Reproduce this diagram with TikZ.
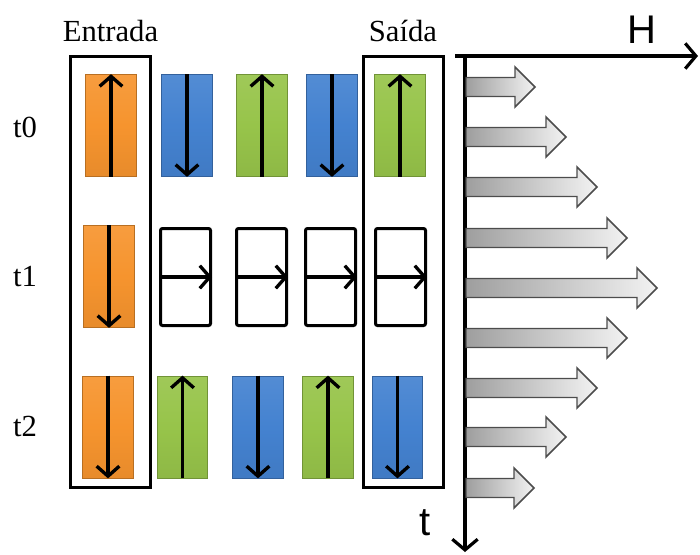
\documentclass[tikz,border=0pt]{standalone}
\usepackage{fontspec}
\setmainfont{Liberation Serif}
\newfontfamily\axisfont{Liberation Sans}
\usetikzlibrary{arrows.meta,positioning}
\definecolor{spinorange}{RGB}{246,148,46}
\definecolor{spinblue}{RGB}{68,130,208}
\definecolor{spingreen}{RGB}{151,196,74}
\tikzset{
  spinbox/.style={draw=#1!75!black, line width=0.6pt, top color=#1!92!white, bottom color=#1!94!black, middle color=#1, inner sep=0pt, minimum width=38pt, minimum height=76.5pt},
  emptybox/.style={draw, line width=2.25pt, rounded corners=1.5pt, inner sep=0pt, minimum width=37.5pt, minimum height=72.75pt},
  framebox/.style={draw, line width=2.25pt, inner sep=0pt, minimum width=60pt, minimum height=323.25pt},
  spin/.style={line width=2.5pt, -{Straight Barb[length=7.5pt,width=17pt]}},
  axis/.style={line width=2.4pt, -{Straight Barb[length=8pt,width=19pt]}},
  field/.style={draw=black!70, line width=1.1pt, left color=black!38, right color=black!5},
  lbl/.style={font=\fontsize{23}{27}\selectfont},
  axlbl/.style={font=\axisfont\fontsize{30}{34}\selectfont},
}
\begin{document}
\begin{tikzpicture}[x=0.75pt,y=0.75pt,yscale=-1,xscale=1]
\useasboundingbox (0,0) rectangle (700,554);
% Frames
\node[framebox] (inbox) at (110.5,272) {};
\node[framebox] (outbox) at (403,272) {};
\node[lbl, above=6pt of inbox] (inlbl) {Entrada};
\node[lbl, above=6pt of outbox] (outlbl) {Saída};
% Time labels
\node[lbl] (t0) at (25,127) {t0};
\node[lbl] (t1) at (25,277) {t1};
\node[lbl] (t2) at (25,426) {t2};
% Row t0
\node[spinbox=spinorange] (s00) at (111,125.5) {};
\node[spinbox=spinblue] (s01) at (187,125.5) {};
\node[spinbox=spingreen] (s02) at (262,125.5) {};
\node[spinbox=spinblue] (s03) at (332,125.5) {};
\node[spinbox=spingreen] (s04) at (400,125.5) {};
\draw[spin] (s00.south) -- (s00.north);
\draw[spin] (s01.north) -- (s01.south);
\draw[spin] (s02.south) -- (s02.north);
\draw[spin] (s03.north) -- (s03.south);
\draw[spin] (s04.south) -- (s04.north);
% Row t1
\node[spinbox=spinorange] (s10) at (109,276.5) {};
\node[emptybox] (s11) at (185.5,277) {};
\node[emptybox] (s12) at (261.5,277) {};
\node[emptybox] (s13) at (330.5,277) {};
\node[emptybox] (s14) at (400.5,277) {};
\draw[spin] (s10.north) -- (s10.south);
\draw[spin] (s11.west) -- (s11.east);
\draw[spin] (s12.west) -- (s12.east);
\draw[spin] (s13.west) -- (s13.east);
\draw[spin] (s14.west) -- (s14.east);
% Row t2
\node[spinbox=spinorange] (s20) at (108,427) {};
\node[spinbox=spingreen] (s21) at (182.5,427) {};
\node[spinbox=spinblue] (s22) at (258,427) {};
\node[spinbox=spingreen] (s23) at (328,427) {};
\node[spinbox=spinblue] (s24) at (397.5,427) {};
\draw[spin] (s20.north) -- (s20.south);
\draw[spin] (s21.south) -- (s21.north);
\draw[spin] (s22.north) -- (s22.south);
\draw[spin] (s23.south) -- (s23.north);
\draw[spin] (s24.north) -- (s24.south);
% Axes
\coordinate (origin) at (465,56);
\coordinate (hstart) at (455,56);
\coordinate (hend) at (698,56);
\coordinate (tend) at (465,552);
\draw[axis] (hstart) -- (hend);
\draw[axis] (origin) -- (tend);
\node[axlbl] (hlbl) at (642,30) {H};
\node[axlbl] (tlbl) at (425,523) {t};
% Field profile
\draw[field] (466,77.5) -- (515,77.5) -- (515,67) -- (535,87) -- (515,107) -- (515,96.5) -- (466,96.5) -- cycle;
\draw[field] (466,127.5) -- (546,127.5) -- (546,117) -- (566,137) -- (546,157) -- (546,146.5) -- (466,146.5) -- cycle;
\draw[field] (466,177.5) -- (577,177.5) -- (577,167) -- (597,187) -- (577,207) -- (577,196.5) -- (466,196.5) -- cycle;
\draw[field] (466,228.5) -- (607,228.5) -- (607,218) -- (627,238) -- (607,258) -- (607,247.5) -- (466,247.5) -- cycle;
\draw[field] (466,278.5) -- (637,278.5) -- (637,268) -- (657,288) -- (637,308) -- (637,297.5) -- (466,297.5) -- cycle;
\draw[field] (466,328.5) -- (607,328.5) -- (607,318) -- (627,338) -- (607,358) -- (607,347.5) -- (466,347.5) -- cycle;
\draw[field] (466,378.5) -- (577,378.5) -- (577,368) -- (597,388) -- (577,408) -- (577,397.5) -- (466,397.5) -- cycle;
\draw[field] (466,427.5) -- (546,427.5) -- (546,417) -- (566,437) -- (546,457) -- (546,446.5) -- (466,446.5) -- cycle;
\draw[field] (466,478.5) -- (514,478.5) -- (514,468) -- (534,488) -- (514,508) -- (514,497.5) -- (466,497.5) -- cycle;
\end{tikzpicture}
\end{document}
